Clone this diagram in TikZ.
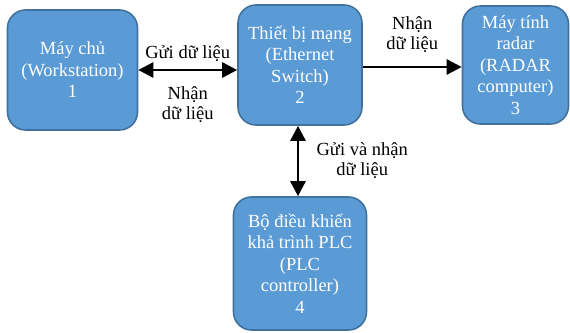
\documentclass[tikz,border=0pt]{standalone}
\usepackage{fontspec}
\setmainfont{Liberation Serif}
\usepackage{xcolor}
\usetikzlibrary{arrows.meta,positioning,calc}
\definecolor{boxfill}{HTML}{5B9BD5}
\definecolor{boxline}{HTML}{41719C}

\begin{document}
\begin{tikzpicture}[
  x=1pt, y=-1pt,
  unit/.style={draw=boxline, line width=1.6pt, fill=boxfill, rounded corners=18pt,
               align=center, text=white, inner sep=2pt,
               font=\rmfamily\fontsize{18.5}{21.5}\selectfont},
  lbl/.style={align=center, font=\rmfamily\fontsize{18.5}{20}\selectfont},
  link/.style={line width=2.6pt, -{Triangle[length=15pt,width=15pt]}},
  dlink/.style={link, {Triangle[length=15pt,width=15pt]}-{Triangle[length=15pt,width=15pt]}}
]
  \useasboundingbox (0,0) rectangle (570,332);
  \node[unit, minimum width=130pt, minimum height=120pt] (ws) at (72.5,70)
    {Máy chủ\\(Workstation)\\1};
  \node[unit, minimum width=124pt, minimum height=120pt] (sw) at (300,65)
    {Thiết bị mạng\\(Ethernet\\Switch)\\2};
  \node[unit, minimum width=106pt, minimum height=118pt] (radar) at (515.5,65)
    {Máy tính\\radar\\(RADAR\\computer)\\3};
  \node[unit, minimum width=133pt, minimum height=133pt] (plc) at (300,263.5)
    {Bộ điều khiển\\khả trình PLC\\(PLC\\controller)\\4};

  \draw[dlink] (ws) -- (ws -| sw.west)
    node[lbl, midway, above=4pt] {Gửi dữ liệu}
    node[lbl, midway, below=12pt] {Nhận\\dữ liệu};
  \draw[link] ($(sw.east)+(0,2)$) -- ($(radar.west)+(0,2)$)
    node[lbl, midway, above=10pt] {Nhận\\dữ liệu};
  \draw[dlink] ($(sw.south)+(-2,0)$) -- ($(plc.north)+(-2,0)$)
    node[lbl, midway, right=14pt] {Gửi và nhận\\dữ liệu};
\end{tikzpicture}
\end{document}
